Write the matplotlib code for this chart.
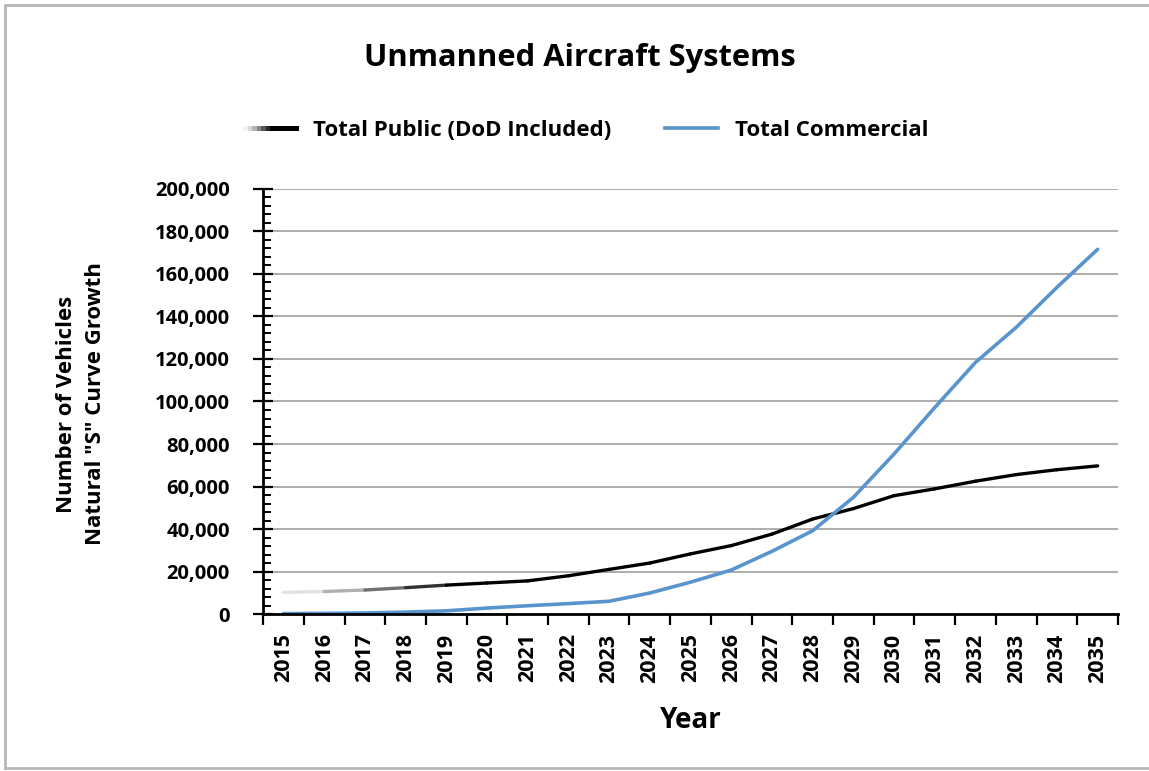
import numpy as np
import matplotlib
matplotlib.use("Agg")
import matplotlib.pyplot as plt
from matplotlib.collections import LineCollection
from matplotlib.legend_handler import HandlerBase
from matplotlib.lines import Line2D
from matplotlib.ticker import FuncFormatter, MultipleLocator, FixedLocator

plt.rcParams['font.family'] = ['Open Sans', 'DejaVu Sans']
plt.rcParams['font.weight'] = 'bold'

years = [str(y) for y in range(2015, 2036)]
total_public = [10200, 10600, 11300, 12400, 13600, 14600, 15600, 18000, 21000, 24000,
                28300, 32200, 37600, 44700, 49600, 55700, 58900, 62500, 65600, 67900, 69700]
total_commercial = [200, 300, 500, 900, 1500, 2800, 3900, 4900, 6000, 9900,
                    15000, 20700, 29500, 39200, 54900, 75300, 97200, 118400, 134900, 153700, 171600]

black_color = '#000000'
blue_color = '#5A94CC'
fade = ['#e2e2e2', '#b0b0b0', '#707070', '#303030']  # fade-in of the first segments


class GradientHandler(HandlerBase):
    def create_artists(self, legend, orig_handle, xdescent, ydescent, width, height, fontsize, trans):
        cols = ['#f2f2f2', '#d8d8d8', '#b4b4b4', '#888888', '#585858', '#282828',
                '#000000', '#000000', '#000000', '#000000', '#000000', '#000000']
        xs = np.linspace(0, width, len(cols) + 1)
        y0 = height / 2 - ydescent
        segs = [[(xs[i] - xdescent, y0), (xs[i + 1] - xdescent + 0.6, y0)] for i in range(len(cols))]
        lc = LineCollection(segs, colors=cols, linewidths=2.4, capstyle='butt',
                            antialiased=False, transform=trans)
        return [lc]


fig = plt.figure(figsize=(11.49, 7.71), dpi=100)
ax = fig.add_axes([0.2290, 0.2036, 0.9730 - 0.2290, 0.7549 - 0.2036])

x = np.arange(len(years))

# black series drawn as segments so the first ones can fade in
pts = np.column_stack([x, total_public])
segs = [pts[i:i + 2] for i in range(len(pts) - 1)]
seg_cols = fade + [black_color] * (len(segs) - len(fade))
lc = LineCollection(segs, colors=seg_cols, linewidths=2.4, capstyle='round', zorder=3)
ax.add_collection(lc)

ax.plot(x, total_commercial, color=blue_color, lw=2.6, solid_capstyle='round', zorder=3)

ax.set_xlim(-0.5, len(years) - 0.5)
ax.set_ylim(0, 200000)

ax.yaxis.set_major_locator(MultipleLocator(20000))
ax.yaxis.set_minor_locator(MultipleLocator(4000))
ax.yaxis.set_major_formatter(FuncFormatter(lambda v, p: f'{v:,.0f}'))
ax.grid(axis='y', which='major', color='#a0a0a0', lw=1.2, zorder=0)

ax.xaxis.set_major_locator(FixedLocator(np.arange(-0.5, len(years), 1.0)))
ax.xaxis.set_major_formatter(FuncFormatter(lambda v, p: ''))
ax.set_xticks(x, minor=True)
ax.set_xticklabels(years, minor=True, rotation=90, fontsize=15.5, fontweight='bold')

ax.tick_params(axis='x', which='major', direction='out', length=8, width=1.6, color='black')
ax.tick_params(axis='x', which='minor', length=0, pad=14)
ax.tick_params(axis='y', which='major', direction='inout', length=14, width=1.6, pad=17,
               labelsize=14.5)
ax.tick_params(axis='y', which='minor', direction='in', length=6, width=1.4)
for lab in ax.get_yticklabels():
    lab.set_fontweight('bold')

for s in ['top', 'right']:
    ax.spines[s].set_visible(False)
for s in ['left', 'bottom']:
    ax.spines[s].set_linewidth(2.0)
    ax.spines[s].set_color('black')
    ax.spines[s].set_zorder(4)

fig.text(0.5048, 0.925, 'Unmanned Aircraft Systems', ha='center', va='center',
         fontsize=22.2, fontweight='bold')

handles = [Line2D([], [], color=black_color, lw=2.4),
           Line2D([], [], color=blue_color, lw=2.6)]
fig.legend(handles, ['Total Public (DoD Included)', 'Total Commercial'],
           handler_map={handles[0]: GradientHandler()},
           loc='center', bbox_to_anchor=(586 / 1149, 1 - 130 / 771), ncol=2, frameon=False,
           prop={'size': 16, 'weight': 'bold'}, handlelength=2.4, handletextpad=0.75,
           columnspacing=2.4)

fig.text(81 / 1149, 1 - 404 / 771, 'Number of Vehicles\nNatural "S" Curve Growth',
         rotation=90, ha='center', va='center', fontsize=16, fontweight='bold',
         linespacing=1.45, multialignment='center')
fig.text(691 / 1149, 1 - 721 / 771, 'Year', ha='center', va='center',
         fontsize=20, fontweight='bold')

# outer frame (top, left, bottom)
frame_kw = dict(color='#b8b8b8', lw=2.0, transform=fig.transFigure)
fig.add_artist(Line2D([5 / 1149, 1.0], [1 - 5 / 771, 1 - 5 / 771], **frame_kw))
fig.add_artist(Line2D([5 / 1149, 5 / 1149], [1 - 5 / 771, 1 - 768 / 771], **frame_kw))
fig.add_artist(Line2D([5 / 1149, 1.0], [1 - 768 / 771, 1 - 768 / 771], **frame_kw))

fig.savefig('out.png', dpi=100, facecolor='white')
